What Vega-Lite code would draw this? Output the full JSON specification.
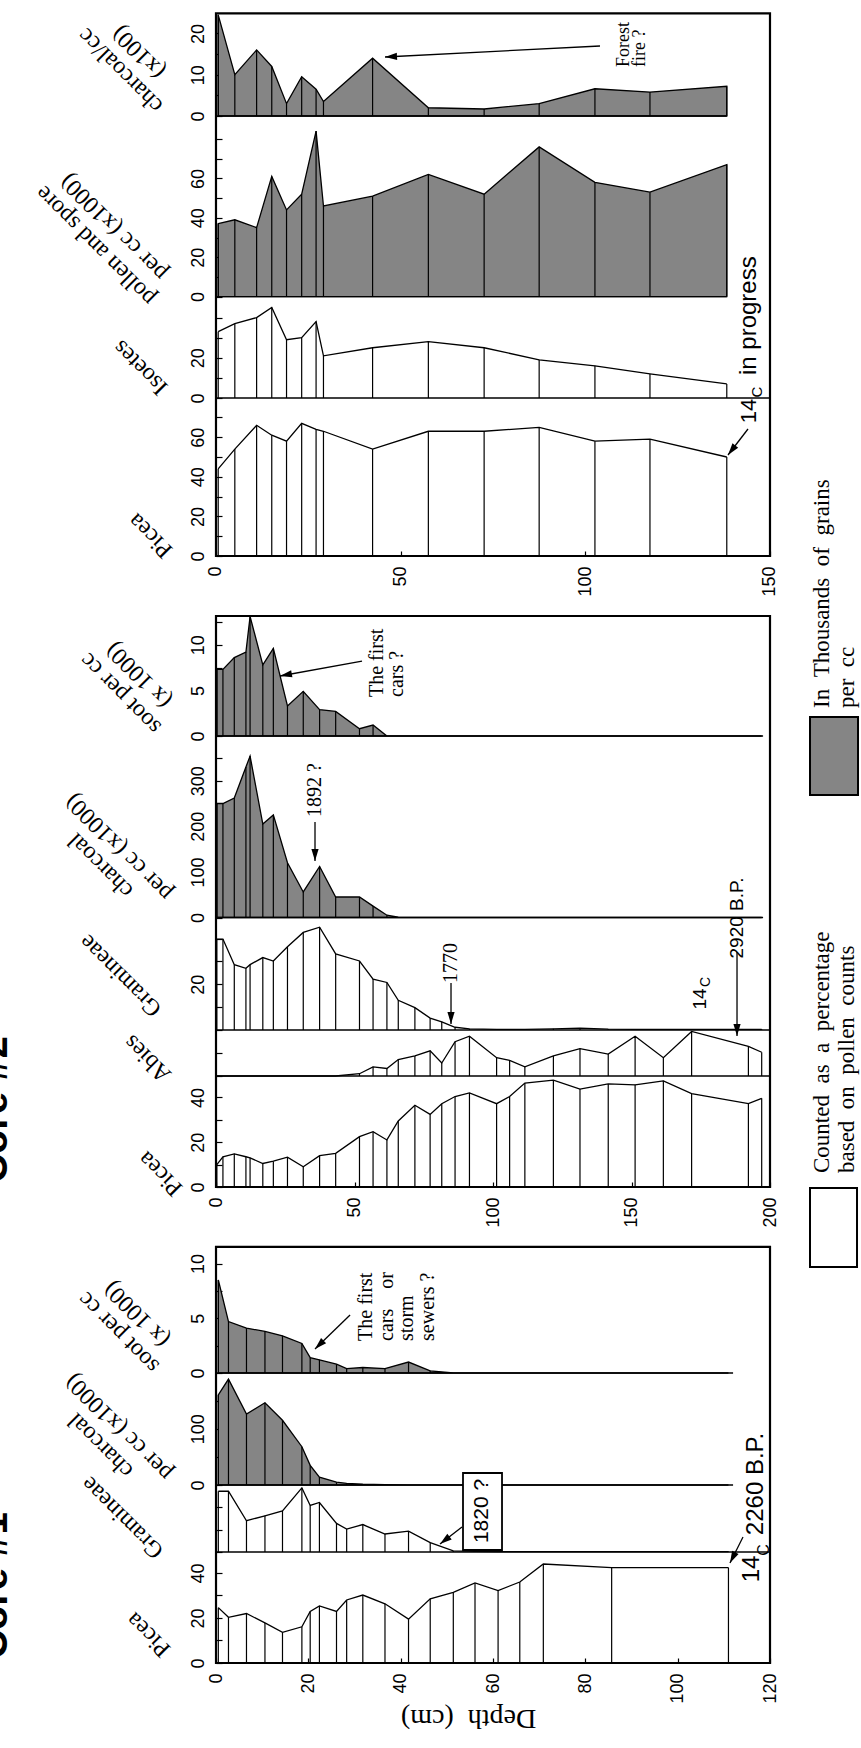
{
"$schema": "https://vega.github.io/schema/vega-lite/v6.json",
"width": 861, "height": 1748, "padding": 0, "autosize": {"type": "none"},
"background": "white",
"config": {
 "view": {"stroke": null},
 "axis": {"domain": false, "grid": false, "tickColor": "black", "tickWidth": 1.2, "labelColor": "black", "labelFont": "Liberation Sans Narrow, Arial Narrow, Liberation Sans, sans-serif", "labelFontSize": 18, "labelOverlap": false, "labelFlush": false, "titleColor": "black", "titleFont": "Liberation Serif, Times New Roman, serif", "titleFontSize": 24, "titleFontWeight": "normal", "titleAlign": "center", "titleBaseline": "middle"},
 "axisY": {"labelAngle": 270, "labelAlign": "center", "labelBaseline": "bottom", "labelPadding": 15, "tickSize": -6, "titleAngle": 225},
 "axisX": {"labelAngle": 270, "labelAlign": "right", "labelBaseline": "middle", "labelPadding": 15, "tickSize": -5, "titleAngle": 180}
},
"datasets": {
 "top": [
  {"d":0.6,"picea":44,"isoetes":33,"pollen":37,"charcoal":24.5},
  {"d":5.1,"picea":54,"isoetes":37,"pollen":39,"charcoal":10},
  {"d":11,"picea":66,"isoetes":40,"pollen":35,"charcoal":16},
  {"d":15.1,"picea":61,"isoetes":45,"pollen":61,"charcoal":12},
  {"d":19.1,"picea":58,"isoetes":29,"pollen":44,"charcoal":3},
  {"d":23.2,"picea":67,"isoetes":30,"pollen":52,"charcoal":9.5},
  {"d":27.1,"picea":64,"isoetes":38,"pollen":84,"charcoal":6.5},
  {"d":29.1,"picea":63,"isoetes":21,"pollen":46,"charcoal":3.5},
  {"d":42.4,"picea":54,"isoetes":25,"pollen":51,"charcoal":14},
  {"d":57.5,"picea":63,"isoetes":28,"pollen":62,"charcoal":2},
  {"d":72.6,"picea":63,"isoetes":25,"pollen":52,"charcoal":1.7},
  {"d":87.5,"picea":65,"isoetes":19,"pollen":76,"charcoal":3},
  {"d":102.6,"picea":58,"isoetes":16,"pollen":58,"charcoal":6.6},
  {"d":117.5,"picea":59,"isoetes":12,"pollen":53,"charcoal":5.8},
  {"d":138.3,"picea":50,"isoetes":7,"pollen":67,"charcoal":7.2}
 ],
 "mid": [
  {"d":0.3,"picea":10,"abies":0,"gram":39.8,"charcoal":250,"soot":7.3},
  {"d":2.5,"picea":13.5,"abies":0,"gram":39.8,"charcoal":250,"soot":7.3},
  {"d":6.6,"picea":14.8,"abies":0,"gram":28.6,"charcoal":262,"soot":8.6},
  {"d":10.8,"picea":13.5,"abies":0,"gram":27,"charcoal":330,"soot":9.2},
  {"d":12.3,"picea":13,"abies":0,"gram":28.6,"charcoal":354,"soot":13.1},
  {"d":16.9,"picea":10.5,"abies":0,"gram":31.7,"charcoal":205,"soot":7.8},
  {"d":20.7,"picea":11.5,"abies":0,"gram":30.2,"charcoal":225,"soot":9.6},
  {"d":25.8,"picea":13.3,"abies":0,"gram":36.4,"charcoal":120,"soot":3.3},
  {"d":31.5,"picea":9,"abies":0,"gram":42.7,"charcoal":56,"soot":4.9},
  {"d":37.4,"picea":14,"abies":0,"gram":45,"charcoal":112,"soot":2.9},
  {"d":43.2,"picea":15,"abies":0,"gram":33.3,"charcoal":45,"soot":2.7},
  {"d":51.8,"picea":22.5,"abies":1,"gram":30.2,"charcoal":45,"soot":0.8},
  {"d":56.7,"picea":24.7,"abies":4,"gram":22.3,"charcoal":25,"soot":1.2},
  {"d":61.7,"picea":21,"abies":3.3,"gram":20.8,"charcoal":5,"soot":0},
  {"d":65.8,"picea":29.5,"abies":7.2,"gram":13,"charcoal":1,"soot":0},
  {"d":71.8,"picea":36.5,"abies":8.8,"gram":9.8,"charcoal":0,"soot":0},
  {"d":77.3,"picea":32.4,"abies":11,"gram":5.2,"charcoal":0,"soot":0},
  {"d":81.5,"picea":37.2,"abies":5.7,"gram":3.6,"charcoal":0,"soot":0},
  {"d":86.3,"picea":40.4,"abies":15,"gram":1.2,"charcoal":0,"soot":0},
  {"d":91.5,"picea":42,"abies":17.4,"gram":0.5,"charcoal":0,"soot":0},
  {"d":101.3,"picea":37.2,"abies":8,"gram":0.3,"charcoal":0,"soot":0},
  {"d":106,"picea":40.4,"abies":6.8,"gram":0.3,"charcoal":0,"soot":0},
  {"d":111.5,"picea":46.4,"abies":4,"gram":0.3,"charcoal":0,"soot":0},
  {"d":121.8,"picea":47.7,"abies":8.8,"gram":0.5,"charcoal":0,"soot":0},
  {"d":131.4,"picea":43.7,"abies":12,"gram":0.8,"charcoal":0,"soot":0},
  {"d":141.6,"picea":46,"abies":9.6,"gram":0.4,"charcoal":0,"soot":0},
  {"d":151.3,"picea":45.6,"abies":17.4,"gram":0.3,"charcoal":0,"soot":0},
  {"d":161.5,"picea":47.4,"abies":8,"gram":0.3,"charcoal":0,"soot":0},
  {"d":171.7,"picea":41.7,"abies":19.5,"gram":0.3,"charcoal":0,"soot":0},
  {"d":192.2,"picea":37.2,"abies":13,"gram":0.3,"charcoal":0,"soot":0},
  {"d":197,"picea":39.6,"abies":10.4,"gram":0.3,"charcoal":0,"soot":0}
 ],
 "bot": [
  {"d":0.5,"picea":24.6,"gram":27,"charcoal":160,"soot":8.5},
  {"d":2.7,"picea":20.3,"gram":27,"charcoal":188,"soot":4.7},
  {"d":6.6,"picea":22,"gram":13.9,"charcoal":126,"soot":4.1},
  {"d":10.6,"picea":17.8,"gram":16.1,"charcoal":146,"soot":3.8},
  {"d":14.4,"picea":13.6,"gram":18.3,"charcoal":115,"soot":3.4},
  {"d":18.6,"picea":16.1,"gram":28.5,"charcoal":68,"soot":2.7},
  {"d":20.4,"picea":22.9,"gram":20.7,"charcoal":35,"soot":1.4},
  {"d":22.4,"picea":25.4,"gram":22,"charcoal":14,"soot":1.2},
  {"d":26.1,"picea":22.9,"gram":12.7,"charcoal":5,"soot":0.8},
  {"d":28.3,"picea":28,"gram":10.2,"charcoal":3,"soot":0.4},
  {"d":31.8,"picea":30.2,"gram":12.2,"charcoal":1.5,"soot":0.5},
  {"d":36.6,"picea":26.3,"gram":8,"charcoal":0.5,"soot":0.4},
  {"d":41.7,"picea":19.5,"gram":9.3,"charcoal":0,"soot":1.0},
  {"d":46.4,"picea":28.5,"gram":4.2,"charcoal":0,"soot":0.2},
  {"d":51.4,"picea":31.4,"gram":0.5,"charcoal":0,"soot":0},
  {"d":56.1,"picea":35.6,"gram":0.3,"charcoal":0,"soot":0},
  {"d":61.1,"picea":32.2,"gram":0.2,"charcoal":0,"soot":0},
  {"d":65.8,"picea":36,"gram":0.2,"charcoal":0,"soot":0},
  {"d":70.9,"picea":44,"gram":0.2,"charcoal":0,"soot":0},
  {"d":85.7,"picea":42.4,"gram":0.2,"charcoal":0,"soot":0},
  {"d":111,"picea":42.4,"gram":0.2,"charcoal":0,"soot":0}
 ]
},
"resolve": {"scale": {"x": "independent", "y": "independent"}, "axis": {"x": "independent", "y": "independent"}},
"layer": [
 {"layer": [
  {"data": {"name": "top"}, "mark": {"type": "area", "fill": "#858585", "stroke": "black", "strokeWidth": 1.3},
   "encoding": {
    "x": {"field": "d", "type": "quantitative", "scale": {"domain": [-58.48, 174.64], "nice": false, "zero": false}, "axis": null},
    "y": {"field": "charcoal", "type": "quantitative", "scale": {"domain": [-395.16, 28.09], "nice": false, "zero": false},
     "axis": {"orient": "left", "offset": -216, "values": [0,5,10,15,20], "labelExpr": "datum.value % 10 === 0 ? datum.label : ''", "title": ["charcoal/cc", "(x100)"], "titleX": -96, "titleY": 70}},
    "y2": {"datum": 0}}},
  {"data": {"name": "top"}, "mark": {"type": "rule", "stroke": "black", "strokeWidth": 1.2},
   "encoding": {"x": {"field": "d", "type": "quantitative"}, "y": {"field": "charcoal", "type": "quantitative"}, "y2": {"datum": 0}}},
  {"data": {"values": [{}]}, "mark": {"type": "rule", "stroke": "black", "strokeWidth": 1.3},
   "encoding": {"x": {"datum": 0}, "x2": {"datum": 138.3}, "y": {"datum": 0}}},
  {"data": {"values": [{}]}, "mark": {"type": "text", "text": ["Forest", "fire ?"], "angle": 270, "align": "left", "baseline": "top", "font": "Liberation Serif, Times New Roman, serif", "fontSize": 18, "lineHeight": 16, "fill": "black"},
   "encoding": {"x": {"datum": 107.98}, "y": {"datum": 11.86}}},
  {"data": {"values": [{}]}, "mark": {"type": "rule", "stroke": "black", "strokeWidth": 1.3},
   "encoding": {"x": {"datum": 103.97}, "y": {"datum": 16.95}, "x2": {"datum": 45.76}, "y2": {"datum": 14.29}}},
  {"data": {"values": [{}]}, "mark": {"type": "point", "shape": "M0,0L-2,-0.6L-2,0.6Z", "size": 144, "filled": true, "fill": "black", "strokeWidth": 0, "opacity": 1, "angle": 177},
   "encoding": {"x": {"datum": 45.76}, "y": {"datum": 14.29}}}
 ]},
 {"layer": [
  {"data": {"name": "top"}, "mark": {"type": "area", "fill": "#858585", "stroke": "black", "strokeWidth": 1.3},
   "encoding": {
    "x": {"field": "d", "type": "quantitative", "scale": {"domain": [-58.48, 174.64], "nice": false, "zero": false}, "axis": null},
    "y": {"field": "pollen", "type": "quantitative", "scale": {"domain": [-736.75, 150.56], "nice": false, "zero": false},
     "axis": {"orient": "left", "offset": -216, "values": [0,10,20,30,40,50,60,70,80], "labelExpr": "datum.value % 20 === 0 && datum.value <= 60 ? datum.label : ''", "title": ["pollen and spore", "per cc (x1000)"], "titleX": -121, "titleY": 245}},
    "y2": {"datum": 0}}},
  {"data": {"name": "top"}, "mark": {"type": "rule", "stroke": "black", "strokeWidth": 1.2},
   "encoding": {"x": {"field": "d", "type": "quantitative"}, "y": {"field": "pollen", "type": "quantitative"}, "y2": {"datum": 0}}},
  {"data": {"values": [{}]}, "mark": {"type": "rule", "stroke": "black", "strokeWidth": 1.3},
   "encoding": {"x": {"datum": 0}, "x2": {"datum": 138.3}, "y": {"datum": 0}}}
 ]},
 {"layer": [
  {"data": {"name": "top"}, "mark": {"type": "line", "stroke": "black", "strokeWidth": 1.3},
   "encoding": {
    "x": {"field": "d", "type": "quantitative", "scale": {"domain": [-58.48, 174.64], "nice": false, "zero": false}, "axis": null},
    "y": {"field": "isoetes", "type": "quantitative", "scale": {"domain": [-671.64, 198.01], "nice": false, "zero": false},
     "axis": {"orient": "left", "offset": -216, "values": [0,10,20,30,40], "labelExpr": "datum.value === 0 || datum.value === 20 ? datum.label : ''", "title": "Isoetes", "titleX": -76, "titleY": 367}}}},
  {"data": {"name": "top"}, "mark": {"type": "rule", "stroke": "black", "strokeWidth": 1.2},
   "encoding": {"x": {"field": "d", "type": "quantitative"}, "y": {"field": "isoetes", "type": "quantitative"}, "y2": {"datum": 0}}},
  {"data": {"values": [{}]}, "mark": {"type": "rule", "stroke": "black", "strokeWidth": 1.3},
   "encoding": {"x": {"datum": 0}, "x2": {"datum": 150}, "y": {"datum": 0}}}
 ]},
 {"layer": [
  {"data": {"name": "top"}, "mark": {"type": "line", "stroke": "black", "strokeWidth": 1.3},
   "encoding": {
    "x": {"field": "d", "type": "quantitative", "scale": {"domain": [-58.48, 174.64], "nice": false, "zero": false},
     "axis": {"orient": "bottom", "offset": -1192, "values": [0,50,100,150], "title": null}},
    "y": {"field": "picea", "type": "quantitative", "scale": {"domain": [-602.02, 280.81], "nice": false, "zero": false},
     "axis": {"orient": "left", "offset": -216, "values": [0,10,20,30,40,50,60,70], "labelExpr": "datum.value % 20 === 0 ? datum.label : ''", "title": "Picea", "titleX": -66, "titleY": 535}}}},
  {"data": {"name": "top"}, "mark": {"type": "rule", "stroke": "black", "strokeWidth": 1.2},
   "encoding": {"x": {"field": "d", "type": "quantitative"}, "y": {"field": "picea", "type": "quantitative"}, "y2": {"datum": 0}}},
  {"data": {"values": [{}]}, "mark": {"type": "rect", "fillOpacity": 0, "stroke": "black", "strokeWidth": 2.2},
   "encoding": {"x": {"datum": 0}, "x2": {"datum": 150}, "y": {"datum": 274.04}, "y2": {"datum": 0}}},
  {"data": {"values": [{}]}, "mark": {"type": "text", "text": "14", "angle": 270, "align": "center", "baseline": "middle", "font": "Liberation Sans Narrow, Arial Narrow, Liberation Sans, sans-serif", "fontSize": 22, "fill": "black"},
   "encoding": {"x": {"datum": 144.32}, "y": {"datum": 73.23}}},
  {"data": {"values": [{}]}, "mark": {"type": "text", "text": "C", "angle": 270, "align": "center", "baseline": "middle", "font": "Liberation Sans Narrow, Arial Narrow, Liberation Sans, sans-serif", "fontSize": 15, "fill": "black"},
   "encoding": {"x": {"datum": 146.48}, "y": {"datum": 82.83}}},
  {"data": {"values": [{}]}, "mark": {"type": "text", "text": "in progress", "angle": 270, "align": "left", "baseline": "middle", "font": "Liberation Sans Narrow, Arial Narrow, Liberation Sans, sans-serif", "fontSize": 24, "fill": "black"},
   "encoding": {"x": {"datum": 144.32}, "y": {"datum": 91.41}}},
  {"data": {"values": [{}]}, "mark": {"type": "rule", "stroke": "black", "strokeWidth": 1.3},
   "encoding": {"x": {"datum": 144.04}, "y": {"datum": 64.14}, "x2": {"datum": 138.63}, "y2": {"datum": 51.01}}},
  {"data": {"values": [{}]}, "mark": {"type": "point", "shape": "M0,0L-2,-0.6L-2,0.6Z", "size": 144, "filled": true, "fill": "black", "strokeWidth": 0, "opacity": 1, "angle": 127.6},
   "encoding": {"x": {"datum": 138.63}, "y": {"datum": 51.01}}}
 ]},
 {"layer": [
  {"data": {"name": "mid"}, "mark": {"type": "area", "fill": "#858585", "stroke": "black", "strokeWidth": 1.3},
   "encoding": {
    "x": {"field": "d", "type": "quantitative", "scale": {"domain": [-77.98, 232.85], "nice": false, "zero": false}, "axis": null},
    "y": {"field": "soot", "type": "quantitative", "scale": {"domain": [-110.96, 80.70], "nice": false, "zero": false},
     "axis": {"orient": "left", "offset": -216, "values": [0,2.5,5,7.5,10,12.5], "labelExpr": "datum.value % 5 === 0 ? datum.label : ''", "title": ["soot per cc", "(x 1000)"], "titleX": -96, "titleY": 693}},
    "y2": {"datum": 0}}},
  {"data": {"name": "mid"}, "mark": {"type": "rule", "stroke": "black", "strokeWidth": 1.2},
   "encoding": {"x": {"field": "d", "type": "quantitative"}, "y": {"field": "soot", "type": "quantitative"}, "y2": {"datum": 0}}},
  {"data": {"values": [{}]}, "mark": {"type": "rule", "stroke": "black", "strokeWidth": 1.3},
   "encoding": {"x": {"datum": 0}, "x2": {"datum": 197.5}, "y": {"datum": 0}}},
  {"data": {"values": [{}]}, "mark": {"type": "text", "text": ["The first", "cars ?"], "angle": 270, "align": "left", "baseline": "top", "font": "Liberation Serif, Times New Roman, serif", "fontSize": 20, "lineHeight": 20, "fill": "black"},
   "encoding": {"x": {"datum": 54.51}, "y": {"datum": 4.28}}},
  {"data": {"values": [{}]}, "mark": {"type": "rule", "stroke": "black", "strokeWidth": 1.3},
   "encoding": {"x": {"datum": 52.71}, "y": {"datum": 8.22}, "x2": {"datum": 23.10}, "y2": {"datum": 6.58}}},
  {"data": {"values": [{}]}, "mark": {"type": "point", "shape": "M0,0L-2,-0.6L-2,0.6Z", "size": 144, "filled": true, "fill": "black", "strokeWidth": 0, "opacity": 1, "angle": 169.6},
   "encoding": {"x": {"datum": 23.10}, "y": {"datum": 6.58}}}
 ]},
 {"layer": [
  {"data": {"name": "mid"}, "mark": {"type": "area", "fill": "#858585", "stroke": "black", "strokeWidth": 1.3},
   "encoding": {
    "x": {"field": "d", "type": "quantitative", "scale": {"domain": [-77.98, 232.85], "nice": false, "zero": false}, "axis": null},
    "y": {"field": "charcoal", "type": "quantitative", "scale": {"domain": [-1821.27, 2012.06], "nice": false, "zero": false},
     "axis": {"orient": "left", "offset": -216, "values": [0,50,100,150,200,250,300,350], "labelExpr": "datum.value % 100 === 0 ? datum.label : ''", "title": ["charcoal", "per cc (x1000)"], "titleX": -116, "titleY": 865}},
    "y2": {"datum": 0}}},
  {"data": {"name": "mid"}, "mark": {"type": "rule", "stroke": "black", "strokeWidth": 1.2},
   "encoding": {"x": {"field": "d", "type": "quantitative"}, "y": {"field": "charcoal", "type": "quantitative"}, "y2": {"datum": 0}}},
  {"data": {"values": [{}]}, "mark": {"type": "rule", "stroke": "black", "strokeWidth": 1.3},
   "encoding": {"x": {"datum": 0}, "x2": {"datum": 197.5}, "y": {"datum": 0}}},
  {"data": {"values": [{}]}, "mark": {"type": "text", "text": "1892 ?", "angle": 270, "align": "center", "baseline": "middle", "font": "Liberation Serif, Times New Roman, serif", "fontSize": 20, "fill": "black"},
   "encoding": {"x": {"datum": 35.74}, "y": {"datum": 279.6}}},
  {"data": {"values": [{}]}, "mark": {"type": "rule", "stroke": "black", "strokeWidth": 1.3},
   "encoding": {"x": {"datum": 35.74}, "y": {"datum": 209.4}, "x2": {"datum": 35.74}, "y2": {"datum": 123.9}}},
  {"data": {"values": [{}]}, "mark": {"type": "point", "shape": "M0,0L-2,-0.6L-2,0.6Z", "size": 144, "filled": true, "fill": "black", "strokeWidth": 0, "opacity": 1, "angle": 90},
   "encoding": {"x": {"datum": 35.74}, "y": {"datum": 123.9}}}
 ]},
 {"layer": [
  {"data": {"name": "mid"}, "mark": {"type": "line", "stroke": "black", "strokeWidth": 1.3},
   "encoding": {
    "x": {"field": "d", "type": "quantitative", "scale": {"domain": [-77.98, 232.85], "nice": false, "zero": false}, "axis": null},
    "y": {"field": "gram", "type": "quantitative", "scale": {"domain": [-314.22, 450.77], "nice": false, "zero": false},
     "axis": {"orient": "left", "offset": -216, "values": [0,10,20,30,40], "labelExpr": "datum.value === 20 ? datum.label : ''", "title": "Gramineae", "titleX": -96, "titleY": 975}}}},
  {"data": {"name": "mid"}, "mark": {"type": "rule", "stroke": "black", "strokeWidth": 1.2},
   "encoding": {"x": {"field": "d", "type": "quantitative"}, "y": {"field": "gram", "type": "quantitative"}, "y2": {"datum": 0}}},
  {"data": {"values": [{}]}, "mark": {"type": "rule", "stroke": "black", "strokeWidth": 1.3},
   "encoding": {"x": {"datum": 0}, "x2": {"datum": 200}, "y": {"datum": 0}}},
  {"data": {"values": [{}]}, "mark": {"type": "text", "text": "1770", "angle": 270, "align": "center", "baseline": "middle", "font": "Liberation Serif, Times New Roman, serif", "fontSize": 20, "fill": "black"},
   "encoding": {"x": {"datum": 84.84}, "y": {"datum": 29.32}}},
  {"data": {"values": [{}]}, "mark": {"type": "rule", "stroke": "black", "strokeWidth": 1.3},
   "encoding": {"x": {"datum": 84.84}, "y": {"datum": 20.57}, "x2": {"datum": 84.84}, "y2": {"datum": 2.63}}},
  {"data": {"values": [{}]}, "mark": {"type": "point", "shape": "M0,0L-2,-0.6L-2,0.6Z", "size": 144, "filled": true, "fill": "black", "strokeWidth": 0, "opacity": 1, "angle": 90},
   "encoding": {"x": {"datum": 84.84}, "y": {"datum": 2.63}}},
  {"data": {"values": [{}]}, "mark": {"type": "text", "text": "2920 B.P.", "angle": 270, "align": "center", "baseline": "middle", "font": "Liberation Sans Narrow, Arial Narrow, Liberation Sans, sans-serif", "fontSize": 19, "fill": "black"},
   "encoding": {"x": {"datum": 188.09}, "y": {"datum": 49.02}}},
  {"data": {"values": [{}]}, "mark": {"type": "text", "text": "14", "angle": 270, "align": "center", "baseline": "middle", "font": "Liberation Sans Narrow, Arial Narrow, Liberation Sans, sans-serif", "fontSize": 19, "fill": "black"},
   "encoding": {"x": {"datum": 174.73}, "y": {"datum": 13.57}}},
  {"data": {"values": [{}]}, "mark": {"type": "text", "text": "C", "angle": 270, "align": "center", "baseline": "middle", "font": "Liberation Sans Narrow, Arial Narrow, Liberation Sans, sans-serif", "fontSize": 14, "fill": "black"},
   "encoding": {"x": {"datum": 176.9}, "y": {"datum": 21.0}}},
  {"data": {"values": [{}]}, "mark": {"type": "rule", "stroke": "black", "strokeWidth": 1.3},
   "encoding": {"x": {"datum": 188.09}, "y": {"datum": 34.14}, "x2": {"datum": 188.09}, "y2": {"datum": -2.63}}},
  {"data": {"values": [{}]}, "mark": {"type": "point", "shape": "M0,0L-2,-0.6L-2,0.6Z", "size": 144, "filled": true, "fill": "black", "strokeWidth": 0, "opacity": 1, "angle": 90},
   "encoding": {"x": {"datum": 188.09}, "y": {"datum": -2.63}}}
 ]},
 {"layer": [
  {"data": {"name": "mid"}, "mark": {"type": "line", "stroke": "black", "strokeWidth": 1.3},
   "encoding": {
    "x": {"field": "d", "type": "quantitative", "scale": {"domain": [-77.98, 232.85], "nice": false, "zero": false}, "axis": null},
    "y": {"field": "abies", "type": "quantitative", "scale": {"domain": [-294.09, 470.90], "nice": false, "zero": false},
     "axis": {"orient": "left", "offset": -216, "values": [0,10], "labels": false, "title": "Abies", "titleX": -69, "titleY": 1058}}}},
  {"data": {"name": "mid"}, "mark": {"type": "rule", "stroke": "black", "strokeWidth": 1.2},
   "encoding": {"x": {"field": "d", "type": "quantitative"}, "y": {"field": "abies", "type": "quantitative"}, "y2": {"datum": 0}}},
  {"data": {"values": [{}]}, "mark": {"type": "rule", "stroke": "black", "strokeWidth": 1.3},
   "encoding": {"x": {"datum": 0}, "x2": {"datum": 200}, "y": {"datum": 0}}}
 ]},
 {"layer": [
  {"data": {"name": "mid"}, "mark": {"type": "line", "stroke": "black", "strokeWidth": 1.3},
   "encoding": {
    "x": {"field": "d", "type": "quantitative", "scale": {"domain": [-77.98, 232.85], "nice": false, "zero": false},
     "axis": {"orient": "bottom", "offset": -561, "values": [0,50,100,150,200], "title": null}},
    "y": {"field": "picea", "type": "quantitative", "scale": {"domain": [-250.45, 529.91], "nice": false, "zero": false},
     "axis": {"orient": "left", "offset": -216, "values": [0,10,20,30,40], "labelExpr": "datum.value % 20 === 0 ? datum.label : ''", "title": "Picea", "titleX": -56, "titleY": 1173}}}},
  {"data": {"name": "mid"}, "mark": {"type": "rule", "stroke": "black", "strokeWidth": 1.2},
   "encoding": {"x": {"field": "d", "type": "quantitative"}, "y": {"field": "picea", "type": "quantitative"}, "y2": {"datum": 0}}},
  {"data": {"values": [{}]}, "mark": {"type": "rect", "fillOpacity": 0, "stroke": "black", "strokeWidth": 2.2},
   "encoding": {"x": {"datum": 0}, "x2": {"datum": 200}, "y": {"datum": 254.9}, "y2": {"datum": 0}}},
  {"data": {"values": [{}]}, "mark": {"type": "rect", "fill": "white", "stroke": "black", "strokeWidth": 2},
   "encoding": {"x": {"datum": 214.44}, "x2": {"datum": 231.41}, "y": {"datum": -0.45}, "y2": {"datum": -35.71}}},
  {"data": {"values": [{}]}, "mark": {"type": "rect", "fill": "#858585", "stroke": "black", "strokeWidth": 2},
   "encoding": {"x": {"datum": 214.44}, "x2": {"datum": 231.77}, "y": {"datum": 209.82}, "y2": {"datum": 175.0}}},
  {"data": {"values": [{}]}, "mark": {"type": "text", "text": ["Counted\u00a0\u00a0as\u00a0\u00a0a\u00a0\u00a0percentage", "based\u00a0\u00a0on\u00a0\u00a0pollen\u00a0\u00a0counts"], "angle": 270, "align": "left", "baseline": "top", "font": "Liberation Serif, Times New Roman, serif", "fontSize": 23, "lineHeight": 25, "fill": "black"},
   "encoding": {"x": {"datum": 214.8}, "y": {"datum": 6.25}}},
  {"data": {"values": [{}]}, "mark": {"type": "text", "text": ["In\u00a0\u00a0Thousands\u00a0\u00a0of\u00a0\u00a0grains", "per\u00a0\u00a0cc"], "angle": 270, "align": "left", "baseline": "top", "font": "Liberation Serif, Times New Roman, serif", "fontSize": 23, "lineHeight": 25, "fill": "black"},
   "encoding": {"x": {"datum": 214.8}, "y": {"datum": 213.84}}},
  {"data": {"values": [{}]}, "mark": {"type": "text", "text": "Core #2", "angle": 270, "align": "left", "baseline": "alphabetic", "font": "Liberation Sans, sans-serif", "fontSize": 40, "fontWeight": "bold", "fill": "black"},
   "encoding": {"x": {"datum": -75.45}, "y": {"datum": 1.79}}}
 ]},
 {"layer": [
  {"data": {"name": "bot"}, "mark": {"type": "area", "fill": "#858585", "stroke": "black", "strokeWidth": 1.3},
   "encoding": {
    "x": {"field": "d", "type": "quantitative", "scale": {"domain": [-46.79, 139.71], "nice": false, "zero": false}, "axis": null},
    "y": {"field": "soot", "type": "quantitative", "scale": {"domain": [-34.28, 125.50], "nice": false, "zero": false},
     "axis": {"orient": "left", "offset": -216, "values": [0,2.5,5,7.5,10], "labelExpr": "datum.value % 5 === 0 ? datum.label : ''", "title": ["soot per cc", "(x 1000)"], "titleX": -98, "titleY": 1332}},
    "y2": {"datum": 0}}},
  {"data": {"name": "bot"}, "mark": {"type": "rule", "stroke": "black", "strokeWidth": 1.2},
   "encoding": {"x": {"field": "d", "type": "quantitative"}, "y": {"field": "soot", "type": "quantitative"}, "y2": {"datum": 0}}},
  {"data": {"values": [{}]}, "mark": {"type": "rule", "stroke": "black", "strokeWidth": 1.3},
   "encoding": {"x": {"datum": 0}, "x2": {"datum": 112}, "y": {"datum": 0}}},
  {"data": {"values": [{}]}, "mark": {"type": "text", "text": ["The first", "cars\u00a0\u00a0\u00a0\u00a0or", "storm", "sewers ?"], "angle": 270, "align": "left", "baseline": "top", "font": "Liberation Serif, Times New Roman, serif", "fontSize": 20, "lineHeight": 20.7, "fill": "black"},
   "encoding": {"x": {"datum": 30.32}, "y": {"datum": 2.93}}},
  {"data": {"values": [{}]}, "mark": {"type": "rule", "stroke": "black", "strokeWidth": 1.3},
   "encoding": {"x": {"datum": 29.03}, "y": {"datum": 5.30}, "x2": {"datum": 21.44}, "y2": {"datum": 2.19}}},
  {"data": {"values": [{}]}, "mark": {"type": "point", "shape": "M0,0L-2,-0.6L-2,0.6Z", "size": 144, "filled": true, "fill": "black", "strokeWidth": 0, "opacity": 1, "angle": 135.8},
   "encoding": {"x": {"datum": 21.44}, "y": {"datum": 2.19}}}
 ]},
 {"layer": [
  {"data": {"name": "bot"}, "mark": {"type": "area", "fill": "#858585", "stroke": "black", "strokeWidth": 1.3},
   "encoding": {
    "x": {"field": "d", "type": "quantitative", "scale": {"domain": [-46.79, 139.71], "nice": false, "zero": false}, "axis": null},
    "y": {"field": "charcoal", "type": "quantitative", "scale": {"domain": [-467.14, 2637.66], "nice": false, "zero": false},
     "axis": {"orient": "left", "offset": -216, "values": [0,50,100,150], "labelExpr": "datum.value % 100 === 0 ? datum.label : ''", "title": ["charcoal", "per cc (x1000)"], "titleX": -116, "titleY": 1445}},
    "y2": {"datum": 0}}},
  {"data": {"name": "bot"}, "mark": {"type": "rule", "stroke": "black", "strokeWidth": 1.2},
   "encoding": {"x": {"field": "d", "type": "quantitative"}, "y": {"field": "charcoal", "type": "quantitative"}, "y2": {"datum": 0}}},
  {"data": {"values": [{}]}, "mark": {"type": "rule", "stroke": "black", "strokeWidth": 1.3},
   "encoding": {"x": {"datum": 0}, "x2": {"datum": 112}, "y": {"datum": 0}}}
 ]},
 {"layer": [
  {"data": {"name": "bot"}, "mark": {"type": "line", "stroke": "black", "strokeWidth": 1.3},
   "encoding": {
    "x": {"field": "d", "type": "quantitative", "scale": {"domain": [-46.79, 139.71], "nice": false, "zero": false}, "axis": null},
    "y": {"field": "gram", "type": "quantitative", "scale": {"domain": [-87.11, 689.78], "nice": false, "zero": false},
     "axis": {"orient": "left", "offset": -216, "values": [0,10,20], "labels": false, "title": "Gramineae", "titleX": -94, "titleY": 1517}}}},
  {"data": {"name": "bot"}, "mark": {"type": "rule", "stroke": "black", "strokeWidth": 1.2},
   "encoding": {"x": {"field": "d", "type": "quantitative"}, "y": {"field": "gram", "type": "quantitative"}, "y2": {"datum": 0}}},
  {"data": {"values": [{}]}, "mark": {"type": "rule", "stroke": "black", "strokeWidth": 1.3},
   "encoding": {"x": {"datum": 0}, "x2": {"datum": 120}, "y": {"datum": 0}}},
  {"data": {"values": [{}]}, "mark": {"type": "rect", "fill": "white", "stroke": "black", "strokeWidth": 1.8},
   "encoding": {"x": {"datum": 53.50}, "x2": {"datum": 61.95}, "y": {"datum": 35.11}, "y2": {"datum": 0.89}}},
  {"data": {"values": [{}]}, "mark": {"type": "text", "text": "1820 ?", "angle": 270, "align": "center", "baseline": "middle", "font": "Liberation Sans Narrow, Arial Narrow, Liberation Sans, sans-serif", "fontSize": 21, "fill": "black"},
   "encoding": {"x": {"datum": 57.62}, "y": {"datum": 18.22}}},
  {"data": {"values": [{}]}, "mark": {"type": "rule", "stroke": "black", "strokeWidth": 1.3},
   "encoding": {"x": {"datum": 53.28}, "y": {"datum": 11.11}, "x2": {"datum": 48.52}, "y2": {"datum": 3.56}}},
  {"data": {"values": [{}]}, "mark": {"type": "point", "shape": "M0,0L-2,-0.6L-2,0.6Z", "size": 144, "filled": true, "fill": "black", "strokeWidth": 0, "opacity": 1, "angle": 142.3},
   "encoding": {"x": {"datum": 48.52}, "y": {"datum": 3.56}}},
  {"data": {"values": [{}]}, "mark": {"type": "text", "text": "2260 B.P.", "angle": 270, "align": "center", "baseline": "middle", "font": "Liberation Sans Narrow, Arial Narrow, Liberation Sans, sans-serif", "fontSize": 24, "fill": "black"},
   "encoding": {"x": {"datum": 116.97}, "y": {"datum": 30.22}}},
  {"data": {"values": [{}]}, "mark": {"type": "text", "text": "14", "angle": 270, "align": "center", "baseline": "middle", "font": "Liberation Sans Narrow, Arial Narrow, Liberation Sans, sans-serif", "fontSize": 24, "fill": "black"},
   "encoding": {"x": {"datum": 116.1}, "y": {"datum": -7.56}}},
  {"data": {"values": [{}]}, "mark": {"type": "text", "text": "C", "angle": 270, "align": "center", "baseline": "middle", "font": "Liberation Sans Narrow, Arial Narrow, Liberation Sans, sans-serif", "fontSize": 16, "fill": "black"},
   "encoding": {"x": {"datum": 118.7}, "y": {"datum": 0.89}}},
  {"data": {"values": [{}]}, "mark": {"type": "rule", "stroke": "black", "strokeWidth": 1.3},
   "encoding": {"x": {"datum": 114.15}, "y": {"datum": 6.67}, "x2": {"datum": 111.33}, "y2": {"datum": -4.89}}},
  {"data": {"values": [{}]}, "mark": {"type": "point", "shape": "M0,0L-2,-0.6L-2,0.6Z", "size": 144, "filled": true, "fill": "black", "strokeWidth": 0, "opacity": 1, "angle": 116.6},
   "encoding": {"x": {"datum": 111.33}, "y": {"datum": -4.89}}}
 ]},
 {"layer": [
  {"data": {"name": "bot"}, "mark": {"type": "line", "stroke": "black", "strokeWidth": 1.3},
   "encoding": {
    "x": {"field": "d", "type": "quantitative", "scale": {"domain": [-46.79, 139.71], "nice": false, "zero": false},
     "axis": {"orient": "bottom", "offset": -85, "values": [0,20,40,60,80,100,120], "title": "Depth\u00a0\u00a0(cm)", "titleAngle": 180, "titleX": 468, "titleY": 54, "titleFontSize": 28}},
    "y": {"field": "picea", "type": "quantitative", "scale": {"domain": [-37.78, 739.11], "nice": false, "zero": false},
     "axis": {"orient": "left", "offset": -216, "values": [0,10,20,30,40], "labelExpr": "datum.value % 20 === 0 ? datum.label : ''", "title": "Picea", "titleX": -68, "titleY": 1634}}}},
  {"data": {"name": "bot"}, "mark": {"type": "rule", "stroke": "black", "strokeWidth": 1.2},
   "encoding": {"x": {"field": "d", "type": "quantitative"}, "y": {"field": "picea", "type": "quantitative"}, "y2": {"datum": 0}}},
  {"data": {"values": [{}]}, "mark": {"type": "rect", "fillOpacity": 0, "stroke": "black", "strokeWidth": 2.2},
   "encoding": {"x": {"datum": 0}, "x2": {"datum": 120}, "y": {"datum": 184.9}, "y2": {"datum": 0}}},
  {"data": {"values": [{}]}, "mark": {"type": "text", "text": "Core #1", "angle": 270, "align": "left", "baseline": "alphabetic", "font": "Liberation Sans, sans-serif", "fontSize": 40, "fontWeight": "bold", "fill": "black"},
   "encoding": {"x": {"datum": -45.27}, "y": {"datum": 1.78}}}
 ]}
]
}
